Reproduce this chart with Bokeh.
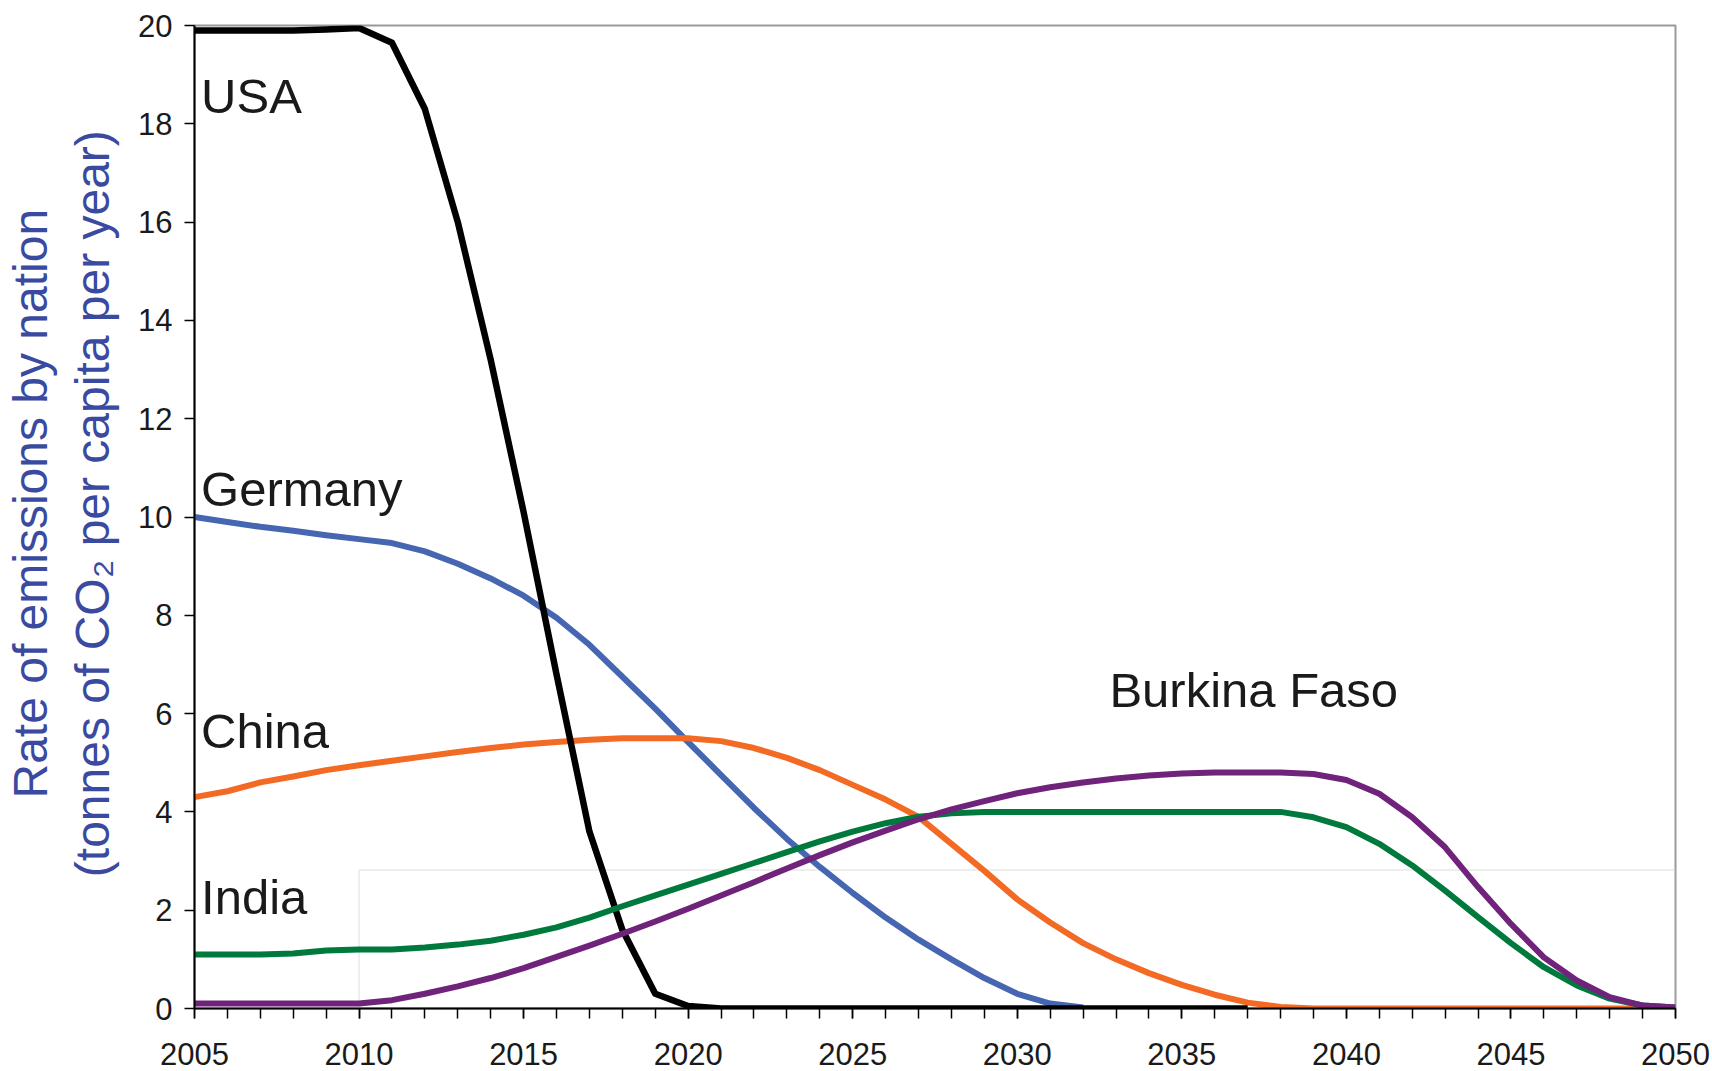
import math
from bokeh.plotting import figure
from bokeh.models import (ColumnDataSource, LabelSet, LinearAxis, FixedTicker,
                          BoxAnnotation, Range1d, GlobalInlineStyleSheet)
from bokeh.core.properties import value
from bokeh.embed import file_html
from bokeh.resources import INLINE

nan = math.nan

# ---------------- data ----------------
years = list(range(2005, 2051))
x_tick_labels = [2005, 2010, 2015, 2020, 2025, 2030, 2035, 2040, 2045, 2050]
y_ticks = [0, 2, 4, 6, 8, 10, 12, 14, 16, 18, 20]

usa = [19.9, 19.9, 19.9, 19.9, 19.92, 19.95, 19.65, 18.3, 16.0, 13.2,
       10.1, 6.8, 3.6, 1.6, 0.3, 0.05, 0.0, 0.0, 0.0, 0.0,
       0.0, 0.0, 0.0, 0.0, 0.0, 0.0, 0.0, 0.0, 0.0, 0.0,
       0.0, 0.0, 0.0, nan, nan, nan, nan, nan, nan, nan,
       nan, nan, nan, nan, nan, nan]

germany = [10.0, 9.9, 9.8, 9.72, 9.63, 9.55, 9.47, 9.3, 9.05, 8.75,
           8.4, 7.95, 7.4, 6.75, 6.1, 5.42, 4.75, 4.08, 3.45, 2.88,
           2.35, 1.85, 1.4, 1.0, 0.62, 0.3, 0.1, 0.02, nan, nan,
           nan, nan, nan, nan, nan, nan, nan, nan, nan, nan,
           nan, nan, nan, nan, nan, nan]

china = [4.3, 4.42, 4.6, 4.72, 4.85, 4.95, 5.04, 5.13, 5.22, 5.3,
         5.37, 5.42, 5.47, 5.5, 5.5, 5.5, 5.44, 5.3, 5.1, 4.85,
         4.55, 4.25, 3.9, 3.35, 2.8, 2.22, 1.75, 1.33, 1.0, 0.72,
         0.48, 0.28, 0.12, 0.03, 0.0, 0.0, 0.0, 0.0, 0.0, 0.0,
         0.0, 0.0, 0.0, 0.0, 0.0, nan]

india = [1.1, 1.1, 1.1, 1.12, 1.18, 1.2, 1.2, 1.24, 1.3, 1.38,
         1.5, 1.65, 1.85, 2.08, 2.3, 2.52, 2.74, 2.96, 3.18, 3.4,
         3.6, 3.77, 3.9, 3.97, 4.0, 4.0, 4.0, 4.0, 4.0, 4.0,
         4.0, 4.0, 4.0, 4.0, 3.89, 3.69, 3.35, 2.91, 2.4, 1.86,
         1.33, 0.84, 0.47, 0.2, 0.06, 0.02]

burkina_faso = [0.1, 0.1, 0.1, 0.1, 0.1, 0.1, 0.17, 0.3, 0.45, 0.62,
                0.82, 1.05, 1.28, 1.52, 1.77, 2.03, 2.3, 2.57, 2.85, 3.12,
                3.38, 3.62, 3.85, 4.05, 4.22, 4.38, 4.5, 4.6, 4.68, 4.74,
                4.78, 4.8, 4.8, 4.8, 4.77, 4.65, 4.37, 3.89, 3.28, 2.47,
                1.72, 1.04, 0.57, 0.23, 0.06, 0.02]

label_names = ["USA", "Germany", "China", "India", "Burkina Faso"]
label_x = [2005.2, 2005.2, 2005.2, 2005.2, 2032.8]
label_y = [18.22, 10.23, 5.3, 1.93, 6.13]

y_title_1 = "Rate of emissions by nation"
y_title_2 = "(tonnes of CO\u2082 per capita per year)"

# ---------------- figure ----------------
FONT = "Liberation Sans"
TITLE_BLUE = "#3a4aa0"
NBSP2 = "\u00a0\u00a0"   # lifts the rotated titles slightly above the frame centre

p = figure(width=1712, height=1071,
           x_range=Range1d(2005, 2050), y_range=Range1d(0, 20),
           output_backend="svg", toolbar_location=None,
           min_border_left=194, min_border_right=37,
           min_border_top=25, min_border_bottom=63)
p.stylesheets = [GlobalInlineStyleSheet(
    css="html, body { margin: 0; padding: 0; overflow: hidden; }")]

p.xgrid.grid_line_color = None
p.ygrid.grid_line_color = None
p.outline_line_color = "#9a9a9a"
p.outline_line_width = 2
p.background_fill_color = "white"
p.border_fill_color = "white"

# faint box seen in the original slide behind the curves
inner_box = BoxAnnotation(left=2010, right=2050, bottom=0, top=2.82,
                          fill_alpha=0, line_color="#c6c6c6", line_width=2,
                          level="underlay")
p.add_layout(inner_box)

# x axis
xa = p.xaxis[0]
xa.ticker = FixedTicker(ticks=x_tick_labels, minor_ticks=years)
xa.major_label_text_font = FONT
xa.major_label_text_font_size = "31px"
xa.major_label_text_color = "#1a1a1a"
xa.major_tick_out = 10
xa.major_tick_in = 0
xa.minor_tick_out = 10
xa.minor_tick_in = 0
xa.major_tick_line_color = "black"
xa.minor_tick_line_color = "black"
xa.major_tick_line_width = 1.5
xa.minor_tick_line_width = 1.5
xa.axis_line_color = "black"
xa.axis_line_width = 2
xa.major_label_standoff = 24

# y axis (inner: ticks + second title line)
ya = p.yaxis[0]
ya.ticker = FixedTicker(ticks=y_ticks, minor_ticks=[])
ya.major_label_text_font = FONT
ya.major_label_text_font_size = "31px"
ya.major_label_text_color = "#1a1a1a"
ya.major_tick_out = 10
ya.major_tick_in = 0
ya.major_tick_line_color = "black"
ya.major_tick_line_width = 1.5
ya.axis_line_color = "black"
ya.axis_line_width = 2
ya.major_label_standoff = 12
ya.axis_label = NBSP2 + y_title_2
ya.axis_label_text_font = FONT
ya.axis_label_text_font_size = "48px"
ya.axis_label_text_font_style = "normal"
ya.axis_label_text_color = TITLE_BLUE
ya.axis_label_standoff = 16

# outer axis carrying the first title line
outer = LinearAxis(ticker=FixedTicker(ticks=[], minor_ticks=[]),
                   axis_label=NBSP2 + y_title_1)
outer.major_label_text_font_size = "0px"
outer.major_label_standoff = 0
outer.major_tick_out = 0
outer.major_tick_in = 0
outer.minor_tick_out = 0
outer.minor_tick_in = 0
outer.axis_line_color = None
outer.axis_label_text_font = FONT
outer.axis_label_text_font_size = "48px"
outer.axis_label_text_font_style = "normal"
outer.axis_label_text_color = TITLE_BLUE
outer.axis_label_standoff = 7
p.add_layout(outer, "left")

# series
src = ColumnDataSource(dict(year=years, usa=usa, germany=germany, china=china,
                            india=india, burkina=burkina_faso))
p.line("year", "germany", source=src, line_color="#4666b2", line_width=6, line_join="round")
p.line("year", "china", source=src, line_color="#f36a24", line_width=6, line_join="round")
p.line("year", "usa", source=src, line_color="black", line_width=6.5, line_join="round")
p.line("year", "india", source=src, line_color="#007a3c", line_width=6, line_join="round")
p.line("year", "burkina", source=src, line_color="#70237a", line_width=6, line_join="round")

lab_src = ColumnDataSource(dict(x=label_x, y=label_y, text=label_names))
labels = LabelSet(x="x", y="y", text="text", source=lab_src,
                  text_font=value(FONT), text_font_size="49px", text_color="#1a1a1a",
                  text_align="left", text_baseline="alphabetic")
p.add_layout(labels)

open("out.html", "w").write(file_html(p, INLINE))
